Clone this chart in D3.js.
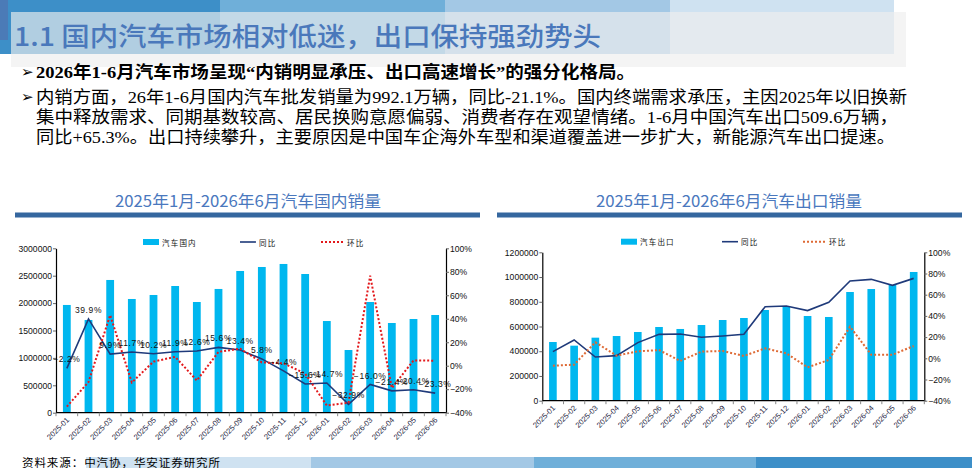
<!DOCTYPE html>
<html><head><meta charset="utf-8">
<script src="https://cdn.jsdelivr.net/npm/d3@7"></script>
<style>
html,body{margin:0;padding:0;background:#fff;}
svg{display:block;}
</style></head>
<body><div id="chart"></div>
<script>
// ---------------- DATA ----------------
const categories = ["2025-01","2025-02","2025-03","2025-04","2025-05","2025-06","2025-07","2025-08","2025-09","2025-10","2025-11","2025-12","2026-01","2026-02","2026-03","2026-04","2026-05","2026-06"];
const domesticSales = [1966000,1692000,2422000,2075000,2148000,2312000,2020000,2258000,2586000,2659000,2714000,2531000,1673000,1144000,2020000,1637000,1710000,1783000];
const domesticYoY = [-2.2,39.9,9.9,11.7,10.2,11.9,12.6,15.6,13.4,5.8,-4.4,-15.6,-14.7,-32.9,-16.0,-21.4,-20.4,-23.3];
const domesticMoM = [-34.9,-13.9,43.1,-14.3,3.5,7.6,-12.6,11.8,14.5,2.8,2.1,-6.7,-33.9,-31.6,76.6,-19.0,4.5,4.3];
const exportSales = [474600,445000,509700,523000,555500,596000,580000,612000,652600,668800,733500,760400,685000,676900,879000,903000,935700,1040900];
const exportYoY = [6.3,17.3,1.2,2.5,14.8,22.6,22.9,19.8,21.0,22.6,48.7,49.4,45.0,52.8,72.9,74.5,68.8,75.4];
const exportMoM = [-7.0,-6.0,15.1,2.5,6.6,7.8,-2.5,6.3,6.9,2.2,9.4,4.7,-8.5,-1.6,29.9,3.4,3.4,11.6];
const domesticTicks = [0,500000,1000000,1500000,2000000,2500000,3000000];
const exportTicks = [0,200000,400000,600000,800000,1000000,1200000];
const pctTicks = [-40,-20,0,20,40,60,80,100];

const pageTitle = "1.1 国内汽车市场相对低迷，出口保持强劲势头";
const bulletLines = [
  "2026年1-6月汽车市场呈现“内销明显承压、出口高速增长”的强分化格局。",
  "内销方面，26年1-6月国内汽车批发销量为992.1万辆，同比-21.1%。国内终端需求承压，主因2025年以旧换新",
  "集中释放需求、同期基数较高、居民换购意愿偏弱、消费者存在观望情绪。1-6月中国汽车出口509.6万辆，",
  "同比+65.3%。出口持续攀升，主要原因是中国车企海外车型和渠道覆盖进一步扩大，新能源汽车出口提速。"
];
const chartTitles = ["2025年1月-2026年6月汽车国内销量","2025年1月-2026年6月汽车出口销量"];
const legendNames = [["汽车国内","同比","环比"],["汽车出口","同比","环比"]];
const sourceText = "资料来源：中汽协，华安证券研究所";

// ---------------- DRAW ----------------
const W = 972, H = 468;
const svg = d3.select("#chart").append("svg").attr("width", W).attr("height", H);
const CJK = "'Noto Sans CJK SC','Noto Sans',sans-serif";
const SERIF = "'Liberation Serif','Noto Sans CJK SC',serif";
const ARIAL = "'Liberation Sans',Arial,sans-serif";

// header blocks
const headBlocks = [[0,220,"#3d8fc8"],[220,445,"#6fafd9"],[445,670,"#a3c8e5"],[670,894,"#cfe2f1"]];
headBlocks.forEach(b => svg.append("rect").attr("x", b[0]).attr("y", 0).attr("width", b[1]-b[0]).attr("height", 54).attr("fill", b[2]));
svg.append("rect").attr("x",0).attr("y",0).attr("width",8).attr("height",40).attr("fill","#4b7bb7");
svg.append("rect").attr("x",11).attr("y",12).attr("width",895).attr("height",55).attr("fill","#efefef").attr("opacity",0.66);
svg.append("text").attr("x",14).attr("y",34).attr("dominant-baseline","central")
  .attr("font-family",CJK).attr("font-size",26).attr("font-weight",500).attr("fill","#4a78bb")
  .attr("textLength",587).attr("lengthAdjust","spacingAndGlyphs").text(pageTitle);

// footer blocks
const footBlocks = [[86,311,"#cfe2f1"],[311,534,"#a3c8e5"],[534,756,"#6fafd9"],[756,972,"#3d8fc8"]];
footBlocks.forEach(b => svg.append("rect").attr("x", b[0]).attr("y", 457).attr("width", b[1]-b[0]).attr("height", 11).attr("fill", b[2]));

// bullet text
const lineY = [72, 97, 117, 137];
const lineW = [599, 871, 862, 859];
bulletLines.forEach((t,i) => {
  if (i < 2) svg.append("text").attr("x",21).attr("y",lineY[i]).attr("dominant-baseline","central")
     .attr("font-family","'DejaVu Sans',sans-serif").attr("font-size",15).attr("fill","#000").text("➢");
  svg.append("text").attr("x",36).attr("y",lineY[i]).attr("dominant-baseline","central")
    .attr("font-family",SERIF).attr("font-size",17).attr("font-weight", i===0 ? "bold" : "normal")
    .attr("fill","#000").attr("textLength",lineW[i]).attr("lengthAdjust","spacingAndGlyphs").text(t);
});

// section titles
[[15,248],[497,729]].forEach((p,i) => {
  svg.append("text").attr("x",p[1]).attr("y",200).attr("text-anchor","middle").attr("dominant-baseline","central")
    .attr("font-family",CJK).attr("font-size",16).attr("fill","#4a78be")
    .attr("textLength",266).attr("lengthAdjust","spacingAndGlyphs").text(chartTitles[i]);
  svg.append("rect").attr("x",p[0]).attr("y",212.5).attr("width",465).attr("height",5).attr("fill","#35679f");
});

// source
svg.append("text").attr("x",22).attr("y",461.5).attr("dominant-baseline","central")
  .attr("font-family",CJK).attr("font-size",11.5).attr("fill","#000")
  .attr("textLength",198).attr("lengthAdjust","spacing").text(sourceText);

function drawChart(cfg) {
  const g = svg.append("g");
  const x = d3.scaleBand().domain(categories).range([cfg.x0, cfg.x1]).padding(0);
  const yL = d3.scaleLinear().domain([0, cfg.max]).range([cfg.yb, cfg.yt]);
  const yR = d3.scaleLinear().domain([-40, 100]).range([cfg.yb, cfg.yt]);
  const bw = x.bandwidth() * 0.36;
  const cx = d => x(d) + x.bandwidth()/2;

  // bars
  g.selectAll("rect.bar").data(cfg.bars).join("rect")
    .attr("x", (d,i) => cx(categories[i]) - bw/2).attr("y", d => yL(d))
    .attr("width", bw).attr("height", d => cfg.yb - yL(d)).attr("fill", "#00b7ef");

  // lines
  const line = d3.line().x((d,i) => cx(categories[i])).y(d => yR(d));
  g.append("path").datum(cfg.yoy).attr("d", line).attr("fill","none")
    .attr("stroke", "#1f3a7a").attr("stroke-width", 1.6);
  g.append("path").datum(cfg.mom).attr("d", line).attr("fill","none")
    .attr("stroke", cfg.momColor).attr("stroke-width", 2).attr("stroke-dasharray","2,2");

  // labels
  if (cfg.labels) {
    g.selectAll("text.lbl").data(cfg.yoy).join("text")
      .attr("x", (d,i) => cx(categories[i])).attr("y", d => yR(d) - 6)
      .attr("text-anchor","middle").attr("font-family",ARIAL).attr("font-size",8.5)
      .attr("letter-spacing",0.6).attr("fill","#111")
      .text(d => d3.format(".1f")(d) + "%");
  }

  // axes
  const axL = g.append("g").attr("transform",`translate(${cfg.x0},0)`)
    .call(d3.axisLeft(yL).tickValues(cfg.ticks).tickSize(3).tickSizeOuter(0).tickFormat(d3.format("d")));
  const axR = g.append("g").attr("transform",`translate(${cfg.x1},0)`)
    .call(d3.axisRight(yR).tickValues(pctTicks).tickSize(3).tickSizeOuter(0).tickFormat(d => d3.format("d")(d) + "%"));
  [axL, axR].forEach(a => {
    a.selectAll("text").attr("font-family",ARIAL).attr("font-size",8.6).attr("fill","#111");
    a.select(".domain").attr("stroke","#000").attr("stroke-width",1.2);
    a.selectAll(".tick line").attr("stroke","#666");
  });
  axL.selectAll("text").attr("x",-4);
  axR.selectAll("text").attr("x",4);

  // x axis
  g.append("line").attr("x1",cfg.x0).attr("x2",cfg.x1).attr("y1",cfg.yb).attr("y2",cfg.yb)
    .attr("stroke","#000").attr("stroke-width",1.2);
  const bounds = categories.map(c => x(c)).concat([cfg.x1]);
  g.selectAll("line.xt").data(bounds).join("line")
    .attr("x1", d => d).attr("x2", d => d).attr("y1", cfg.yb).attr("y2", cfg.yb + 3.5)
    .attr("stroke", "#888");
  g.selectAll("text.xl").data(categories).join("text")
    .attr("transform", d => `translate(${cx(d)+1},${cfg.yb + 6}) rotate(-45)`)
    .attr("text-anchor","end").attr("dy","0.35em")
    .attr("font-family",ARIAL).attr("font-size",7.6).attr("fill","#1c1c40").text(d => d);

  // legend
  const ly = cfg.legendY;
  const names = cfg.names;
  g.append("rect").attr("x",cfg.leg[0]).attr("y",ly-3).attr("width",16).attr("height",6).attr("fill","#00b7ef");
  g.append("text").attr("x",cfg.leg[0]+19).attr("y",ly).attr("dominant-baseline","central")
    .attr("font-family",CJK).attr("font-size",7.5).attr("letter-spacing",1.2).attr("fill","#111").text(names[0]);
  g.append("line").attr("x1",cfg.leg[1]).attr("x2",cfg.leg[1]+16).attr("y1",ly).attr("y2",ly)
    .attr("stroke","#1f3a7a").attr("stroke-width",1.6);
  g.append("text").attr("x",cfg.leg[1]+19).attr("y",ly).attr("dominant-baseline","central")
    .attr("font-family",CJK).attr("font-size",7.5).attr("letter-spacing",1.2).attr("fill","#111").text(names[1]);
  g.append("line").attr("x1",cfg.leg[2]).attr("x2",cfg.leg[2]+22).attr("y1",ly).attr("y2",ly)
    .attr("stroke",cfg.momColor).attr("stroke-width",2).attr("stroke-dasharray","2,2");
  g.append("text").attr("x",cfg.leg[2]+26).attr("y",ly).attr("dominant-baseline","central")
    .attr("font-family",CJK).attr("font-size",7.5).attr("letter-spacing",1.2).attr("fill","#111").text(names[2]);
}

drawChart({x0:56, x1:446, yb:412.7, yt:248.3, max:3000000, ticks:domesticTicks,
  bars:domesticSales, yoy:domesticYoY, mom:domesticMoM, momColor:"#e3191c", labels:true,
  legendY:242, leg:[143,240,321], names:legendNames[0]});
drawChart({x0:542.3, x1:924.3, yb:400.7, yt:252.3, max:1200000, ticks:exportTicks,
  bars:exportSales, yoy:exportYoY, mom:exportMoM, momColor:"#de6a35", labels:false,
  legendY:241.7, leg:[621,722,803], names:legendNames[1]});
</script>
</body></html>
